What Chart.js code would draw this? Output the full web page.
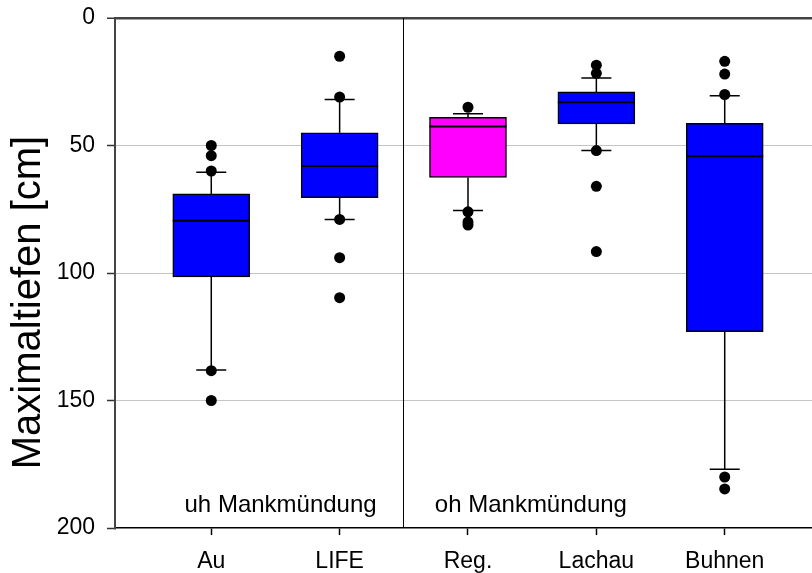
<!DOCTYPE html>
<html>
<head>
<meta charset="utf-8">
<script src="https://cdn.jsdelivr.net/npm/chart.js@4/dist/chart.umd.min.js"></script>
<style>
  html, body { margin: 0; padding: 0; background: #ffffff; }
  #wrap { width: 812px; height: 573px; }
</style>
</head>
<body>
<div id="wrap"><canvas id="c" width="812" height="573"></canvas></div>
<script>
// Maximum water depths per reach (cm), summarised as box plots
const categories = ['Au', 'LIFE', 'Reg.', 'Lachau', 'Buhnen'];
const boxColors = ['#0000ff', '#0000ff', '#ff00ff', '#0000ff', '#0000ff'];
const whiskerLow = [60.5, 32, 37.5, 23.5, 30.5];
const quartile1 = [69, 45, 39, 29, 41.3];
const medians = [79.5, 58, 42.5, 33, 54.2];
const quartile3 = [101.5, 70.5, 62.5, 41.5, 123];
const whiskerHigh = [138, 79, 75.5, 52, 177];
const outliers = [
  [50, 54, 60, 138.3, 150],
  [15, 31, 79, 94, 109.7],
  [35, 76, 80, 81.2],
  [18.5, 21.7, 52, 66, 91.6],
  [17, 22, 30, 180, 184.7]
];
const yTicks = [0, 50, 100, 150, 200];
const groupLabels = ['uh Mankmündung', 'oh Mankmündung'];
const groupLabelX = [1.54, 3.49];
const groupDivider = 2.49;

const FONT = '"Liberation Sans", Arial, Helvetica, sans-serif';

const boxData = categories.map((c, i) => ({ x: i + 1, y: [quartile1[i], quartile3[i]] }));
const outlierData = [];
outliers.forEach((list, i) => list.forEach(v => outlierData.push({ x: i + 1, y: v })));

const boxExtras = {
  id: 'boxExtras',
  beforeDatasetsDraw(chart) {
    const { ctx, chartArea, scales: { x, y } } = chart;
    ctx.save();
    // divider between the two river sections
    const dx = Math.round(x.getPixelForValue(groupDivider)) + 0.5;
    ctx.strokeStyle = '#000';
    ctx.lineWidth = 1;
    ctx.beginPath();
    ctx.moveTo(dx, chartArea.top);
    ctx.lineTo(dx, chartArea.bottom);
    ctx.stroke();
    // whiskers and caps
    ctx.lineWidth = 1.5;
    const capHalf = 15;
    categories.forEach((c, i) => {
      const px = x.getPixelForValue(i + 1);
      const yLo = y.getPixelForValue(whiskerLow[i]);
      const yQ1 = y.getPixelForValue(quartile1[i]);
      const yQ3 = y.getPixelForValue(quartile3[i]);
      const yHi = y.getPixelForValue(whiskerHigh[i]);
      ctx.beginPath();
      ctx.moveTo(px, yLo); ctx.lineTo(px, yQ1);
      ctx.moveTo(px, yQ3); ctx.lineTo(px, yHi);
      ctx.moveTo(px - capHalf, yLo); ctx.lineTo(px + capHalf, yLo);
      ctx.moveTo(px - capHalf, yHi); ctx.lineTo(px + capHalf, yHi);
      ctx.stroke();
    });
    // section labels
    ctx.fillStyle = '#000';
    ctx.font = '24px ' + FONT;
    ctx.textAlign = 'center';
    ctx.textBaseline = 'alphabetic';
    groupLabels.forEach((t, i) => {
      ctx.fillText(t, x.getPixelForValue(groupLabelX[i]), y.getPixelForValue(193.6));
    });
    ctx.restore();
  },
  afterDatasetsDraw(chart) {
    const { ctx, scales: { y } } = chart;
    const meta = chart.getDatasetMeta(1);
    ctx.save();
    ctx.strokeStyle = '#000';
    ctx.lineWidth = 2;
    categories.forEach((c, i) => {
      const bar = meta.data[i];
      const half = bar.width / 2;
      const py = y.getPixelForValue(medians[i]);
      ctx.beginPath();
      ctx.moveTo(bar.x - half, py);
      ctx.lineTo(bar.x + half, py);
      ctx.stroke();
    });
    ctx.restore();
  },
  afterDraw(chart) {
    const { ctx } = chart;
    ctx.save();
    ctx.fillStyle = '#000';
    ctx.font = '40px ' + FONT;
    ctx.textAlign = 'center';
    ctx.textBaseline = 'alphabetic';
    ctx.translate(40, 302.5);
    ctx.rotate(-Math.PI / 2);
    ctx.fillText('Maximaltiefen [cm]', 0, 0);
    ctx.restore();
  }
};

new Chart(document.getElementById('c'), {
  data: {
    datasets: [
      {
        type: 'scatter',
        data: outlierData,
        pointRadius: 5.5,
        pointBackgroundColor: '#000',
        pointBorderWidth: 0,
        order: 0
      },
      {
        type: 'bar',
        data: boxData,
        backgroundColor: boxColors,
        borderColor: '#000',
        borderWidth: 1.5,
        borderSkipped: false,
        barThickness: 77,
        order: 1
      }
    ]
  },
  options: {
    responsive: false,
    devicePixelRatio: 1,
    animation: false,
    events: [],
    layout: { padding: { top: 18, right: 0, left: 0, bottom: 0 }, autoPadding: false },
    plugins: { legend: { display: false }, tooltip: { enabled: false } },
    scales: {
      x: {
        type: 'linear',
        min: 0.25,
        max: 5.68,
        offset: false,
        afterBuildTicks: s => { s.ticks = categories.map((c, i) => ({ value: i + 1 })); },
        afterFit: s => { s.height = 45; s.paddingLeft = 0; s.paddingRight = 0; },
        ticks: {
          callback: v => categories[v - 1],
          color: '#000',
          font: { size: 23, family: FONT },
          padding: 13,
          maxRotation: 0,
          autoSkip: false
        },
        grid: { offset: false, drawOnChartArea: false, drawTicks: true, tickLength: 7, tickColor: '#000', tickWidth: 1.5 },
        border: { color: '#000', width: 1.5 }
      },
      y: {
        type: 'linear',
        reverse: true,
        min: 0,
        max: 200,
        afterBuildTicks: s => { s.ticks = yTicks.map(v => ({ value: v })); },
        afterFit: s => { s.width = 115; s.paddingTop = 0; s.paddingBottom = 0; },
        ticks: {
          color: '#000',
          font: { size: 23, family: FONT },
          padding: 12
        },
        grid: {
          color: c => c.tick.value === 0 ? '#444444' : (c.tick.value === 200 ? 'rgba(0,0,0,0)' : '#c4c4c4'),
          lineWidth: c => c.tick.value === 0 ? 2.5 : 1,
          tickLength: 8,
          tickColor: '#333333',
          tickWidth: 1.5
        },
        border: { color: '#444444', width: 2 }
      }
    }
  },
  plugins: [boxExtras]
});
</script>
</body>
</html>
